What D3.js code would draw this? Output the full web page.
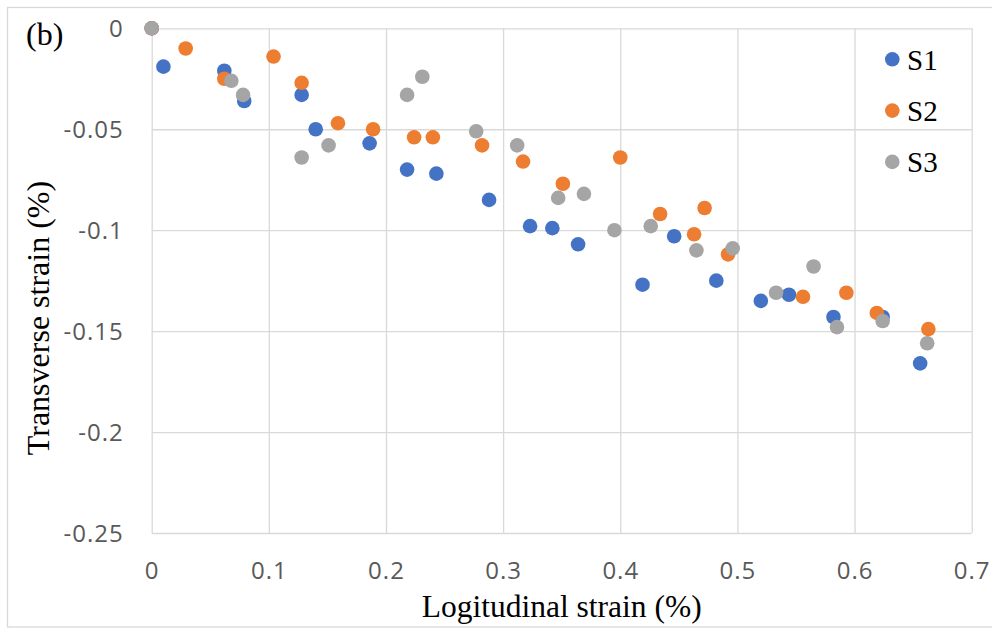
<!DOCTYPE html>
<html>
<head>
<meta charset="utf-8">
<script src="https://cdn.jsdelivr.net/npm/d3@7"></script>
<style>
  body { margin: 0; background: #fff; }
  svg { display: block; }
</style>
</head>
<body>
<svg width="992" height="628"></svg>
<script>
// strain readings per specimen (longitudinal %, transverse %)
const s1x = [0, 0.010, 0.062, 0.079, 0.128, 0.140, 0.186, 0.218, 0.243, 0.288, 0.323, 0.342, 0.364, 0.419, 0.446, 0.482, 0.520, 0.544, 0.582, 0.624, 0.656];
const s1y = [0, -0.019, -0.021, -0.036, -0.033, -0.050, -0.057, -0.070, -0.072, -0.085, -0.098, -0.099, -0.107, -0.127, -0.103, -0.125, -0.135, -0.132, -0.143, -0.143, -0.166];

const s2x = [0, 0.029, 0.062, 0.104, 0.128, 0.159, 0.189, 0.224, 0.240, 0.282, 0.317, 0.351, 0.400, 0.434, 0.463, 0.472, 0.492, 0.556, 0.593, 0.619, 0.663];
const s2y = [0, -0.010, -0.025, -0.014, -0.027, -0.047, -0.050, -0.054, -0.054, -0.058, -0.066, -0.077, -0.064, -0.092, -0.102, -0.089, -0.112, -0.133, -0.131, -0.141, -0.149];

const s3x = [0, 0.068, 0.078, 0.128, 0.151, 0.218, 0.231, 0.277, 0.312, 0.347, 0.369, 0.395, 0.426, 0.465, 0.496, 0.533, 0.565, 0.585, 0.624, 0.662];
const s3y = [0, -0.026, -0.033, -0.064, -0.058, -0.033, -0.024, -0.051, -0.058, -0.084, -0.082, -0.100, -0.098, -0.110, -0.109, -0.131, -0.118, -0.148, -0.145, -0.156];

const seriesNames = ["S1", "S2", "S3"];
const seriesColors = ["#4472C4", "#ED7D31", "#A5A5A5"];

const xTicks = [0, 0.1, 0.2, 0.3, 0.4, 0.5, 0.6, 0.7];
const yTicks = [0, -0.05, -0.1, -0.15, -0.2, -0.25];

const series = [
    { name: seriesNames[0], color: seriesColors[0], pts: s1x.map((v, i) => [v, s1y[i]]) },
    { name: seriesNames[1], color: seriesColors[1], pts: s2x.map((v, i) => [v, s2y[i]]) },
    { name: seriesNames[2], color: seriesColors[2], pts: s3x.map((v, i) => [v, s3y[i]]) }
];

const svg = d3.select("svg");
const plotLeft = 151.7, plotRight = 971.7, plotTop = 28.3, plotBottom = 533;

const x = d3.scaleLinear().domain([0, 0.7]).range([plotLeft, plotRight]);
const y = d3.scaleLinear().domain([0, -0.25]).range([plotTop, plotBottom]);

const fmt = d => String(+d.toFixed(2));

// outer chart border
svg.append("rect")
    .attr("x", 7.5).attr("y", 7.5)
    .attr("width", 995).attr("height", 619.5)
    .attr("fill", "none")
    .attr("stroke", "#d9d9d9")
    .attr("stroke-width", 1.3);

// grid + tick labels
const xAxis = svg.append("g")
    .attr("transform", `translate(0,${plotBottom})`)
    .call(d3.axisBottom(x).tickValues(xTicks).tickFormat(fmt).tickSize(-(plotBottom - plotTop)));

const yAxis = svg.append("g")
    .attr("transform", `translate(${plotLeft},0)`)
    .call(d3.axisLeft(y).tickValues(yTicks).tickFormat(fmt).tickSize(-(plotRight - plotLeft)));

[xAxis, yAxis].forEach(g => {
    g.select(".domain").remove();
    g.selectAll("line").attr("stroke", "#d9d9d9").attr("stroke-width", 1.3);
    g.selectAll("text")
        .attr("fill", "#595959")
        .style("font-family", "'Open Sans', sans-serif")
        .style("font-size", "24px")
        .style("letter-spacing", "1px");
});

xAxis.selectAll("text").attr("y", 46.3).attr("dy", null);
yAxis.selectAll("text").attr("x", -28).attr("dy", "0.36em");

// points
series.forEach(s => {
    svg.append("g")
        .selectAll("circle")
        .data(s.pts)
        .join("circle")
        .attr("cx", d => x(d[0]))
        .attr("cy", d => y(d[1]))
        .attr("r", 7.3)
        .attr("fill", s.color);
});

// legend
const legend = svg.append("g");
series.forEach((s, i) => {
    const ly = 59.3 + i * 51.3;
    legend.append("circle")
        .attr("cx", 892.3).attr("cy", ly).attr("r", 7.3)
        .attr("fill", s.color);
    legend.append("text")
        .attr("x", 907).attr("y", ly + 10.2)
        .style("font-family", "'Liberation Serif', 'Times New Roman', serif")
        .style("font-size", "29px")
        .attr("fill", "#000")
        .text(s.name);
});

// titles
const serif = "'Liberation Serif', 'Times New Roman', serif";

svg.append("text")
    .attr("x", (plotLeft + plotRight) / 2).attr("y", 616.5)
    .attr("text-anchor", "middle")
    .style("font-family", serif).style("font-size", "31.5px")
    .text("Logitudinal strain (%)");

svg.append("text")
    .attr("transform", "translate(49,318) rotate(-90)")
    .attr("text-anchor", "middle")
    .style("font-family", serif).style("font-size", "32px")
    .text("Transverse strain (%)");

svg.append("text")
    .attr("x", 26).attr("y", 45)
    .style("font-family", serif).style("font-size", "32px")
    .text("(b)");
</script>
</body>
</html>
